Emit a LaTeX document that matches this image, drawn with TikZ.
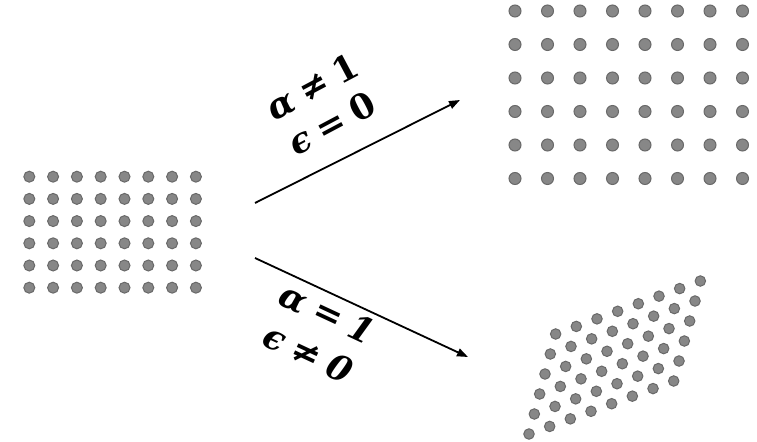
\documentclass[tikz,border=0pt]{standalone}
\usepackage{fontspec}
\newfontfamily\labfont{DejaVu Serif}
\usetikzlibrary{arrows.meta}
\definecolor{dotfill}{RGB}{135,135,135}
\definecolor{dotedge}{RGB}{105,105,105}
\newcommand{\gap}{\hspace{0.28em}}
\begin{document}
\begin{tikzpicture}[x=1bp,y=-1bp,
  dot/.style={circle,fill=dotfill,draw=dotedge,line width=1bp,inner sep=0pt},
  arr/.style={line width=1.8bp,-{Triangle[length=11bp,width=8bp]}},
  lab/.style={inner sep=0pt,align=center}]
\useasboundingbox (0,0) rectangle (757,442);
% left grid
\foreach \i in {0,...,7}{\foreach \j in {0,...,5}{
  \node[dot,minimum size=11bp] (L-\i-\j) at ({29.3+23.8*\i},{176.7+22.2*\j}) {};}}
% top-right grid
\foreach \i in {0,...,7}{\foreach \j in {0,...,5}{
  \node[dot,minimum size=12bp] (T-\i-\j) at ({515+32.5*\i},{11+33.5*\j}) {};}}
% bottom-right sheared grid
\foreach \i in {0,...,7}{\foreach \j in {0,...,5}{
  \node[dot,minimum size=10.5bp] (B-\i-\j) at ({529+20.67*\i+5.33*\j},{434-7.57*\i-20*\j}) {};}}
% arrows
\coordinate (a1s) at (255,203);
\coordinate (a1e) at (460,100);
\coordinate (a2s) at (255,258);
\coordinate (a2e) at (468,357);
\draw[arr] (a1s) -- (a1e);
\draw[arr] (a2s) -- (a2e);
% labels
\node[lab,rotate=28,font=\labfont\bfseries\fontsize{35}{42}\selectfont] (l1) at (322,105)
  {{\itshape α}\gap≠\gap1\\{\itshape ϵ}\gap=\gap0};
\node[lab,rotate=-25,font=\labfont\bfseries\itshape\fontsize{35}{45}\selectfont] (l2) at (318,333)
  {α\gap=\gap1\\ϵ\gap≠\gap0};
\end{tikzpicture}
\end{document}
